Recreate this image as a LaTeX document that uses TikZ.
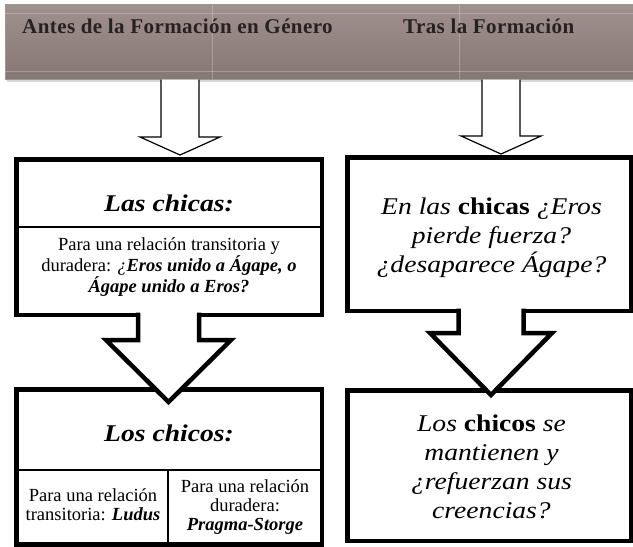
\documentclass[tikz,border=0pt]{standalone}
\usepackage{fontspec}
\setmainfont{Liberation Serif}
\usetikzlibrary{shadows}

\definecolor{bandtop}{RGB}{160,144,142}
\definecolor{bandmid}{RGB}{204,194,192}
\definecolor{bandbot}{RGB}{134,118,116}
\definecolor{headink}{RGB}{38,34,34}
\newcommand{\bitext}[1]{\textbf{\textit{#1}}}
\newcommand{\wideline}[1]{\scalebox{1.15}[1]{#1}}

\begin{document}
\begin{tikzpicture}[x=1pt,y=-1pt,
  band/.style={draw=gray!80,line width=0.8pt,top color=bandtop,middle color=bandmid,bottom color=bandbot,
    inner sep=0pt,drop shadow={opacity=0.3,shadow xshift=2pt,shadow yshift=-3pt}},
  box/.style={draw=black,line width=4.5pt,fill=white,inner sep=0pt,
    drop shadow={opacity=0.25,shadow xshift=1pt,shadow yshift=-2pt}},
  thinarrow/.style={draw=black,line width=1.2pt,fill=white},
  bigarrow/.style={draw=black,line width=4.5pt,fill=white},
  headtext/.style={font=\bfseries\fontsize{21}{25}\selectfont\addfontfeature{LetterSpace=2},
    text=headink,inner sep=0pt,anchor=base west},
  bigtext/.style={font=\fontsize{24}{29}\selectfont,align=center,inner sep=0pt,anchor=base},
  bodytext/.style={font=\fontsize{18.5}{19}\selectfont,align=center,inner sep=0pt,anchor=base}]
\useasboundingbox (0,0) rectangle (633,547);

% banner
\node[band,minimum width=640pt,minimum height=75pt] (banner) at (325,41.5) {};
\foreach \y in {13,71}
  \draw[white,opacity=0.25,line width=0.8pt] (5,\y) -- (633,\y);
\foreach \x in {212,459}
  \draw[white,opacity=0.25,line width=0.8pt] (\x,4.5) -- (\x,78.5);
\node[headtext] (antes) at (22,33) {Antes de la Formación en Género};
\node[headtext] (tras) at (403,33) {Tras la Formación};

% thin arrows from banner
\foreach \c/\s/\h/\ya/\yb/\yc in {180/19/40/79.5/137/155, 501/19/40/79.5/136/154}
  \draw[thinarrow] (\c-\s,\ya) -- (\c-\s,\yb) -- (\c-\h,\yb) -- (\c,\yc) -- (\c+\h,\yb) -- (\c+\s,\yb) -- (\c+\s,\ya);

% boxes
\foreach \n/\x/\y/\w/\h in {chicas/169/237/305.5/155.5, chicos/169/466.9/305.5/155.25,
    chicasfin/489/234/283.5/153.5, chicosfin/489/465.5/283.5/150.5}
  \node[box,minimum width=\w pt,minimum height=\h pt] (\n) at (\x,\y) {};
\coordinate (sepa) at (16,227);
\coordinate (sepb) at (168,470);
\draw[line width=1.5pt] (chicas.west |- sepa) -- (chicas.east |- sepa);
\draw[line width=2pt] (chicos.west |- sepb) -- (chicos.east |- sepb);
\draw[line width=2pt] (sepb) -- (sepb |- chicos.south);

% thick arrows between boxes
\foreach \c/\s/\h/\ya/\yb/\yc in {168.5/30.5/62.5/312.5/340/402, 491/32.5/61/308.5/333/395}
  \draw[bigarrow] (\c-\s,\ya) -- (\c-\s,\yb) -- (\c-\h,\yb) -- (\c,\yc) -- (\c+\h,\yb) -- (\c+\s,\yb) -- (\c+\s,\ya);

% texts (multi-line nodes sit on their last baseline)
\node[bigtext] (chicastit) at (169,211) {\wideline{\bitext{Las chicas:}}};
\node[bodytext] (chicasdesc) at (169,292) {Para una relación transitoria y\\
  duradera: \textit{¿}\bitext{Eros unido a Ágape, o}\\ \bitext{Ágape unido a Eros?}};
\node[bigtext] (chicostit) at (169,441) {\wideline{\bitext{Los chicos:}}};
\node[bodytext] (ludus) at (93,520) {Para una relación\\transitoria: \bitext{Ludus}};
\node[bodytext] (pragma) at (245,530) {Para una relación\\duradera:\\ \bitext{Pragma-Storge}};
\node[bigtext,font=\itshape\fontsize{24}{29}\selectfont] (chicasq) at (491.5,272)
  {\wideline{En las \textbf{\upshape chicas} ¿Eros}\\\wideline{pierde fuerza?}\\\wideline{¿desaparece Ágape?}};
\node[bigtext,font=\itshape\fontsize{24}{29}\selectfont] (chicosq) at (491.5,518)
  {\wideline{Los \textbf{\upshape chicos} se}\\\wideline{mantienen y}\\\wideline{¿refuerzan sus}\\\wideline{creencias?}};

\end{tikzpicture}
\end{document}
